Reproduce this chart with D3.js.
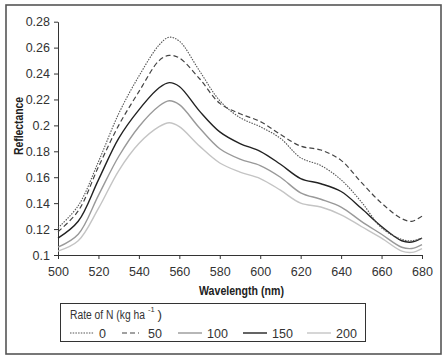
<!DOCTYPE html>
<html lang="en">
  <head>
    <meta charset="UTF-8" />
    <title>Reflectance by wavelength</title>
    <style>
      body {
        margin: 0;
        padding: 0;
        background: #fff;
        font-family: 'Liberation Sans', Arial, sans-serif;
      }
      .axis text {
        font-size: 12.5px;
        fill: #333;
      }
      .axis path,
      .axis line {
        stroke: #333;
      }
    </style>
  </head>

  <body>
    <script src="https://cdn.jsdelivr.net/npm/d3@7"></script>
    <script>
      // data
      const wavelengths = [500, 510, 520, 530, 540, 550, 555, 560, 570, 580, 590, 600, 610, 620, 630, 640, 650, 660, 670, 675, 680];
      const rate0 = [0.121, 0.138, 0.172, 0.209, 0.238, 0.262, 0.268, 0.265, 0.242, 0.219, 0.206, 0.199, 0.19, 0.175, 0.169, 0.158, 0.141, 0.121, 0.112, 0.111, 0.113];
      const rate50 = [0.118, 0.134, 0.168, 0.2, 0.226, 0.25, 0.254, 0.252, 0.236, 0.217, 0.209, 0.203, 0.193, 0.184, 0.181, 0.173, 0.156, 0.14, 0.128, 0.126, 0.13];
      const rate100 = [0.106, 0.116, 0.146, 0.176, 0.199, 0.215, 0.219, 0.216, 0.198, 0.182, 0.174, 0.169, 0.16, 0.148, 0.143, 0.137, 0.126, 0.116, 0.106, 0.105, 0.108];
      const rate150 = [0.113, 0.126, 0.158, 0.19, 0.212, 0.229, 0.233, 0.23, 0.211, 0.195, 0.186, 0.18, 0.17, 0.159, 0.155, 0.149, 0.136, 0.122, 0.111, 0.11, 0.113];
      const rate200 = [0.103, 0.111, 0.136, 0.165, 0.186, 0.199, 0.202, 0.199, 0.184, 0.171, 0.164, 0.159, 0.15, 0.14, 0.137, 0.131, 0.122, 0.113, 0.103, 0.102, 0.105];
      const seriesNames = ['0', '50', '100', '150', '200'];
      const xTicks = [500, 520, 540, 560, 580, 600, 620, 640, 660, 680];
      const yTicks = [0.1, 0.12, 0.14, 0.16, 0.18, 0.2, 0.22, 0.24, 0.26, 0.28];
      const yTickLabels = ['0.1', '0.12', '0.14', '0.16', '0.18', '0.2', '0.22', '0.24', '0.26', '0.28'];

      const series = [rate0, rate50, rate100, rate150, rate200];
      const styles = [
        { color: '#555', width: 1.1, dash: '1.5,1.2' },
        { color: '#444', width: 1.2, dash: '5,3' },
        { color: '#999', width: 1.4, dash: null },
        { color: '#222', width: 1.4, dash: null },
        { color: '#c4c4c4', width: 1.4, dash: null }
      ];

      const width = 446;
      const height = 362;
      const margin = { left: 58, right: 22, top: 21.7, bottom: 107 };

      const svg = d3.select('body').append('svg').attr('width', width).attr('height', height);

      // squeeze a text horizontally to a target width (no narrow font installed)
      function squeeze(sel, x0, y0, target, rotate) {
        const w = sel.node().getComputedTextLength();
        const k = target / w;
        const rot = rotate ? ' rotate(-90)' : '';
        sel.attr('x', 0).attr('y', 0).attr('transform', `translate(${x0},${y0})${rot} scale(${k},1)`);
      }

      // outer frame
      svg.append('rect')
        .attr('x', 6)
        .attr('y', 5)
        .attr('width', 435)
        .attr('height', 349)
        .attr('fill', 'none')
        .attr('stroke', '#555')
        .attr('stroke-width', 1.6);

      const x = d3.scaleLinear().domain([500, 680]).range([margin.left, width - margin.right - 2]);
      const y = d3.scaleLinear().domain([0.1, 0.28]).range([height - margin.bottom, margin.top]);

      svg.append('g')
        .attr('class', 'axis')
        .attr('transform', `translate(0,${y(0.1)})`)
        .call(d3.axisBottom(x).tickValues(xTicks).tickSize(4).tickSizeOuter(0).tickPadding(6))
        .call((g) => g.selectAll('text').attr('dy', '0.85em'));

      svg.append('g')
        .attr('class', 'axis')
        .attr('transform', `translate(${x(500)},0)`)
        .call(
          d3.axisLeft(y)
            .tickValues(yTicks)
            .tickFormat((d, i) => yTickLabels[i])
            .tickSize(4)
            .tickSizeOuter(0)
            .tickPadding(4)
        );

      // axis titles
      const xTitle = svg.append('text')
        .attr('font-size', 13.5)
        .attr('font-weight', 'bold')
        .attr('fill', '#222')
        .text('Wavelength (nm)');
      squeeze(xTitle, 199, 295, 85, false);

      const yTitle = svg.append('text')
        .attr('font-size', 13.5)
        .attr('font-weight', 'bold')
        .attr('fill', '#222')
        .text('Reflectance');
      squeeze(yTitle, 23, 155, 58, true);

      const line = d3.line()
        .x((d, i) => x(wavelengths[i]))
        .y((d) => y(d))
        .curve(d3.curveCatmullRom.alpha(0.5));

      // draw light ones first so the dark ones stay on top
      [4, 2, 3, 1, 0].forEach((k) => {
        svg.append('path')
          .attr('d', line(series[k]))
          .attr('fill', 'none')
          .attr('stroke', styles[k].color)
          .attr('stroke-width', styles[k].width)
          .attr('stroke-dasharray', styles[k].dash);
      });

      // legend
      const legend = svg.append('g');
      legend.append('rect')
        .attr('x', 60.5)
        .attr('y', 303.5)
        .attr('width', 305)
        .attr('height', 38)
        .attr('fill', '#fff')
        .attr('stroke', '#333')
        .attr('stroke-width', 1);

      const title = legend.append('text')
        .attr('font-size', 13.5)
        .attr('fill', '#333')
        .text('Rate of N (kg ha');
      squeeze(title, 70, 319, 75, false);
      legend.append('text')
        .attr('x', 148)
        .attr('y', 312)
        .attr('font-size', 7.5)
        .attr('fill', '#333')
        .text('-1');
      legend.append('text')
        .attr('x', 157.5)
        .attr('y', 319)
        .attr('font-size', 13.5)
        .attr('fill', '#333')
        .text(')');

      const entryX = [70, 122, 178, 243, 307];
      seriesNames.forEach((name, k) => {
        const ex = entryX[k];
        legend.append('line')
          .attr('x1', ex)
          .attr('x2', ex + (k === 1 ? 17 : 24))
          .attr('y1', 333)
          .attr('y2', 333)
          .attr('stroke', styles[k].color)
          .attr('stroke-width', styles[k].width)
          .attr('stroke-dasharray', styles[k].dash);
        legend.append('text')
          .attr('x', ex + (k === 1 ? 26 : 29))
          .attr('y', 338)
          .attr('font-size', 12.5)
          .attr('fill', '#333')
          .text(name);
      });
    </script>
  </body>
</html>
